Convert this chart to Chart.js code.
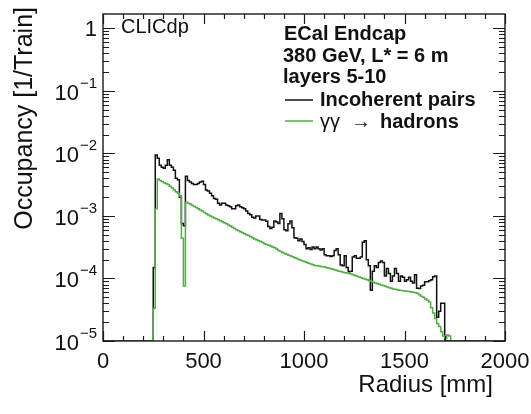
<!DOCTYPE html>
<html>
<head>
<meta charset="utf-8">
<title>ECal Endcap occupancy</title>
<script src="https://cdn.jsdelivr.net/npm/chart.js@4.4.1/dist/chart.umd.min.js"></script>
<style>
  html, body { margin: 0; padding: 0; background: #fff; }
  #occ { display: block; }
</style>
</head>
<body>
<canvas id="occ" width="531" height="414"></canvas>
<script>
// histogram bins, 10 mm wide, first bin starts at 250 mm
const binWidth = 10;
const binStart = 250;

// Incoherent pairs, occupancy per bin [1/Train]
const pairs = [
  1.5e-4, 9.4e-3, 8.4e-3, 6.5e-3, 6.0e-3, 5.8e-3, 6.5e-3, 7.9e-3, 6.5e-3, 6.0e-3,
  5.4e-3, 4.0e-3, 3.8e-3, 2.0e-3, 7.6e-4, 7.0e-4, 4.3e-3, 3.7e-3, 3.5e-3, 3.3e-3,
  3.2e-3, 3.2e-3, 3.3e-3, 3.5e-3, 3.6e-3, 3.2e-3, 2.6e-3, 2.5e-3, 2.3e-3, 2.1e-3,
  1.9e-3, 1.85e-3, 1.6e-3, 1.5e-3, 1.6e-3, 1.6e-3, 1.5e-3, 1.45e-3, 1.4e-3, 1.3e-3,
  1.3e-3, 1.45e-3, 1.5e-3, 1.4e-3, 1.35e-3, 1.3e-3, 1.2e-3, 1.1e-3, 1.05e-3, 9.5e-4,
  9.3e-4, 1.0e-3, 1.0e-3, 8.8e-4, 8.6e-4, 8.6e-4, 8.2e-4, 6.8e-4, 6.3e-4, 6.6e-4,
  8.3e-4, 8.0e-4, 7.6e-4, 1.1e-3, 9.0e-4, 6.0e-4, 5.8e-4, 7.5e-4, 8.3e-4, 6.5e-4,
  4.5e-4, 4.4e-4, 4.0e-4, 4.3e-4, 3.9e-4, 3.5e-4, 3.0e-4, 3.1e-4, 2.9e-4, 3.2e-4,
  3.0e-4, 3.2e-4, 3.0e-4, 2.85e-4, 3.0e-4, 2.4e-4, 2.3e-4, 2.3e-4, 2.25e-4, 2.3e-4,
  2.8e-4, 3.0e-4, 2.4e-4, 1.65e-4, 1.6e-4, 2.3e-4, 1.5e-4, 1.28e-4, 1.3e-4, 2.2e-4,
  2.3e-4, 2.1e-4, 2.1e-4, 2.2e-4, 3.8e-4, 4.0e-4, 2.0e-4, 1.6e-4, 6.5e-5, 1.3e-4,
  1.6e-4, 1.5e-4, 1.8e-4, 1.9e-4, 1.8e-4, 1.1e-4, 1.45e-4, 1.2e-4, 9.0e-5, 1.1e-4,
  1.45e-4, 1.2e-4, 9.0e-5, 1.1e-4, 1.05e-4, 9.0e-5, 9.5e-5, 1.05e-4, 9.0e-5, 8.5e-5,
  1.15e-4, 7.0e-5, 6.9e-5, 7.6e-5, 7.8e-5, 8.9e-5, 8.9e-5, 9.2e-5, 9.5e-5, 1.07e-4,
  1.1e-4, 2.4e-5, 3.0e-5, 4.0e-5, 4.0e-5
];

// gamma gamma -> hadrons
const hadrons = [
  3.3e-5, 1.3e-3, 3.9e-3, 3.7e-3, 3.55e-3, 3.4e-3, 3.3e-3, 3.2e-3, 3.0e-3, 2.8e-3,
  2.6e-3, 2.45e-3, 2.3e-3, 2.1e-3, 4.4e-4, 7.6e-5, 1.65e-3, 1.6e-3, 1.55e-3, 1.48e-3,
  1.42e-3, 1.36e-3, 1.3e-3, 1.25e-3, 1.2e-3, 1.14e-3, 1.08e-3, 1.04e-3, 1.0e-3, 9.6e-4,
  9.3e-4, 9.0e-4, 8.7e-4, 8.4e-4, 8.1e-4, 7.8e-4, 7.5e-4, 7.2e-4, 6.9e-4, 6.6e-4,
  6.3e-4, 6.0e-4, 5.8e-4, 5.6e-4, 5.4e-4, 5.2e-4, 5.0e-4, 4.85e-4, 4.65e-4, 4.5e-4,
  4.3e-4, 4.15e-4, 4.0e-4, 3.9e-4, 3.75e-4, 3.6e-4, 3.5e-4, 3.4e-4, 3.3e-4, 3.2e-4,
  3.1e-4, 2.95e-4, 2.8e-4, 2.7e-4, 2.6e-4, 2.5e-4, 2.44e-4, 2.36e-4, 2.29e-4, 2.22e-4,
  2.15e-4, 2.08e-4, 2.02e-4, 1.96e-4, 1.9e-4, 1.85e-4, 1.8e-4, 1.75e-4, 1.7e-4, 1.66e-4,
  1.62e-4, 1.6e-4, 1.58e-4, 1.56e-4, 1.54e-4, 1.52e-4, 1.49e-4, 1.46e-4, 1.43e-4, 1.4e-4,
  1.37e-4, 1.34e-4, 1.31e-4, 1.29e-4, 1.26e-4, 1.24e-4, 1.22e-4, 1.2e-4, 1.18e-4, 1.15e-4,
  1.12e-4, 1.09e-4, 1.06e-4, 1.03e-4, 1.0e-4, 9.8e-5, 9.5e-5, 9.2e-5, 9.0e-5, 8.7e-5,
  8.5e-5, 8.3e-5, 8.1e-5, 7.9e-5, 7.7e-5, 7.5e-5, 7.3e-5, 7.1e-5, 7.0e-5, 6.8e-5,
  6.7e-5, 6.6e-5, 6.5e-5, 6.4e-5, 6.35e-5, 6.3e-5, 6.25e-5, 6.2e-5, 6.1e-5, 6.0e-5,
  5.9e-5, 5.8e-5, 5.5e-5, 5.2e-5, 5.0e-5, 4.7e-5, 4.5e-5, 4.2e-5, 3.4e-5, 2.8e-5,
  2.3e-5, 1.9e-5, 1.7e-5, 1.4e-5, 1.2e-5, 1.1e-5, 1.25e-5, 1.2e-5
];

const xTicks = [0, 500, 1000, 1500, 2000];
const yDecades = [-5, -4, -3, -2, -1, 0];
const yMin = 1e-5;
const yMax = 1.7;

const FONT = "'Liberation Sans', Arial, Helvetica, sans-serif";
const GREEN = '#55aa48';
const BLACK = '#111111';

// turn bin contents into step points (left edge of each bin);
// empty bins sit on the frame bottom like ROOT draws them
function toSteps(values) {
  const pts = [{ x: 0, y: yMin }];
  values.forEach((v, i) => pts.push({ x: binStart + i * binWidth, y: v }));
  pts.push({ x: binStart + values.length * binWidth, y: yMin });
  pts.push({ x: 2000, y: yMin });
  return pts;
}

// ROOT style frame, ticks, labels and text
const rootFrame = {
  id: 'rootFrame',
  afterDatasetsDraw(chart) {
    const { ctx, chartArea: a, scales: { x, y } } = chart;
    ctx.save();
    ctx.strokeStyle = '#1a1a1a';
    ctx.lineWidth = 1.2;

    ctx.beginPath();
    for (let v = 0; v <= 2000; v += 100) {
      const px = Math.round(x.getPixelForValue(v)) + 0.5;
      const len = v % 500 === 0 ? 10 : 5;
      ctx.moveTo(px, a.bottom); ctx.lineTo(px, a.bottom - len);
      ctx.moveTo(px, a.top); ctx.lineTo(px, a.top + len);
    }
    yDecades.forEach(e => {
      for (let m = 1; m <= 9; m++) {
        const v = m * Math.pow(10, e);
        if (v > y.max) break;
        const py = Math.round(y.getPixelForValue(v)) + 0.5;
        const len = m === 1 ? 12 : 6;
        ctx.moveTo(a.left, py); ctx.lineTo(a.left + len, py);
        ctx.moveTo(a.right, py); ctx.lineTo(a.right - len, py);
      }
    });
    ctx.stroke();
    ctx.lineWidth = 1.4;
    ctx.strokeRect(a.left, a.top, a.right - a.left, a.bottom - a.top);

    ctx.fillStyle = '#111';
    ctx.textBaseline = 'alphabetic';

    // x tick labels
    ctx.font = '22px ' + FONT;
    ctx.textAlign = 'center';
    xTicks.forEach(v => ctx.fillText(String(v), x.getPixelForValue(v), 368));

    // y tick labels 10^n
    const labRight = 97;
    yDecades.forEach(e => {
      const py = y.getPixelForValue(Math.pow(10, e));
      if (e === 0) {
        ctx.font = '22px ' + FONT;
        ctx.textAlign = 'right';
        ctx.fillText('1', labRight, py + 8);
        return;
      }
      const sup = '\u2212' + (-e);
      ctx.font = '15px ' + FONT;
      const sw = ctx.measureText(sup).width;
      ctx.textAlign = 'left';
      ctx.fillText(sup, labRight - sw, py - 3);
      ctx.font = '22px ' + FONT;
      ctx.textAlign = 'right';
      ctx.fillText('10', labRight - sw - 1, py + 9);
    });

    // axis titles
    ctx.font = '24px ' + FONT;
    ctx.textAlign = 'right';
    ctx.fillText('Radius [mm]', 493, 392);
    ctx.save();
    ctx.translate(32, 7);
    ctx.rotate(-Math.PI / 2);
    ctx.textAlign = 'right';
    ctx.font = '25px ' + FONT;
    ctx.fillText('Occupancy [1/Train]', 0, 0);
    ctx.restore();

    // labels inside the frame
    ctx.textAlign = 'left';
    ctx.font = '20px ' + FONT;
    ctx.fillText('CLICdp', 121, 33);
    ctx.font = 'bold 20px ' + FONT;
    ctx.fillText('ECal Endcap', 284, 40);
    ctx.fillText('380 GeV, L* = 6 m', 283, 61.5);
    ctx.fillText('layers 5-10', 283, 83);

    // legend
    ctx.lineWidth = 1.5;
    ctx.strokeStyle = BLACK;
    ctx.beginPath(); ctx.moveTo(285, 100); ctx.lineTo(313, 100); ctx.stroke();
    ctx.strokeStyle = GREEN;
    ctx.beginPath(); ctx.moveTo(285, 121); ctx.lineTo(313, 121); ctx.stroke();
    ctx.fillText('Incoherent pairs', 320, 106);
    ctx.font = '20px ' + FONT;
    ctx.fillText('\u03b3\u03b3', 320, 127.5);
    ctx.fillText('\u2192', 351, 127.5);
    ctx.font = 'bold 20px ' + FONT;
    ctx.fillText('hadrons', 380, 127.5);

    ctx.restore();
  }
};

new Chart(document.getElementById('occ'), {
  type: 'line',
  data: {
    datasets: [
      {
        label: 'Incoherent pairs',
        data: toSteps(pairs),
        borderColor: BLACK,
        borderWidth: 1.5,
        stepped: true,
        pointRadius: 0,
        fill: false,
        order: 1
      },
      {
        label: '\u03b3\u03b3 \u2192 hadrons',
        data: toSteps(hadrons),
        borderColor: GREEN,
        borderWidth: 1.5,
        stepped: true,
        pointRadius: 0,
        fill: false,
        order: 0
      }
    ]
  },
  options: {
    responsive: false,
    animation: false,
    devicePixelRatio: 1,
    layout: { padding: { left: 103, right: 26, top: 14, bottom: 73 } },
    scales: {
      x: { type: 'linear', min: 0, max: 2000, display: false },
      y: { type: 'logarithmic', min: yMin, max: yMax, display: false }
    },
    plugins: {
      legend: { display: false },
      tooltip: { enabled: false }
    }
  },
  plugins: [rootFrame]
});
</script>
</body>
</html>
